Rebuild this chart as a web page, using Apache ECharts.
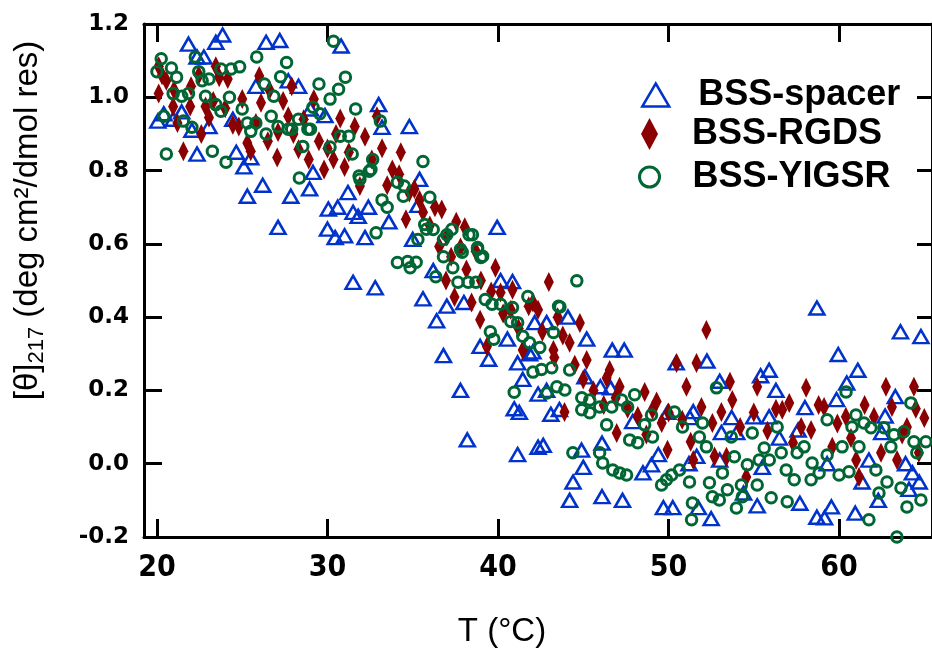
<!DOCTYPE html>
<html>
<head>
<meta charset="utf-8">
<script src="https://cdn.jsdelivr.net/npm/echarts@6/dist/echarts.min.js"></script>
<style>
html,body{margin:0;padding:0;background:#fff;}
#chart{width:932px;height:655px;}
</style>
</head>
<body>
<div id="chart"></div>
<script>
// ---- data (T in °C, [θ]217 in deg cm²/dmol res) ----
const seriesNames = ['BSS-spacer', 'BSS-RGDS', 'BSS-YIGSR'];
const xTicks = [20, 30, 40, 50, 60];
const yTicks = [-0.2, 0.0, 0.2, 0.4, 0.6, 0.8, 1.0, 1.2];

const spacerData = [
 [20.05,0.935],[20.4,0.955],[20.95,0.94],[21.45,0.96],[21.85,1.145],[22.35,1.11],[22.75,1.11],[22.05,0.91],
 [22.35,0.845],[23.05,0.92],[23.45,1.15],[23.85,1.17],[24.45,0.94],[24.65,0.85],[25.1,0.81],[25.5,0.835],
 [25.3,0.73],[25.8,1.03],[26.2,0.76],[26.4,1.15],[27.2,1.155],[27.7,1.045],[28.3,1.03],[27.85,0.73],
 [27.1,0.645],[29.85,0.95],[29.15,0.795],[28.95,0.75],[29.0,0.968],[30.05,0.695],[30.6,0.70],[31.2,0.74],
 [30.0,0.64],[30.45,0.617],[31.0,0.622],[32.2,0.617],[31.8,0.675],[31.5,0.686],[32.4,0.70],[33.0,0.98],
 [33.2,0.918],[34.8,0.92],[33.6,0.66],[35.3,0.705],[35.4,0.776],[35.0,0.612],[30.8,1.14],
 [31.5,0.495],[32.8,0.48],[35.6,0.45],[36.2,0.527],[37.0,0.43],[38.0,0.44],[36.4,0.39],[36.8,0.295],
 [37.8,0.20],[38.2,0.065],[39.95,0.645],[40.15,0.50],[40.85,0.497],[38.95,0.32],[39.45,0.285],[40.55,0.34],
 [42.15,0.385],[42.85,0.385],[41.85,0.30],[41.45,0.23],[42.85,0.20],[40.95,0.15],[41.15,0.025],[42.35,0.045],
 [41.15,0.275],[43.6,0.148],[44.1,0.40],[45.2,0.34],[46.7,0.31],[47.4,0.31],[42.05,0.305],[46.0,0.21],
 [46.6,0.207],[45.1,0.237],[42.35,0.19],[43.1,0.135],[41.25,0.14],[47.9,0.115],[42.65,0.05],[44.9,0.037],
 [46.1,0.056],[45.0,-0.01],[44.4,-0.05],[44.2,-0.10],[46.1,-0.09],[47.3,-0.10],[48.5,-0.025],[49.0,-0.003],
 [49.4,0.025],[49.7,-0.12],[50.25,-0.12],[50.45,0.275],[49.95,0.14],[51.65,0.02],[51.2,0.0],[51.45,0.142],
 [58.7,0.425],[52.25,0.28],[53.0,0.225],[55.4,0.24],[55.9,0.255],[56.3,0.20],[58.0,0.153],[53.7,0.126],
 [55.0,0.128],[55.9,0.128],[53.1,0.085],[54.0,0.085],[56.5,0.07],[51.25,0.126],[55.5,-0.01],[53.0,0.01],
 [51.75,-0.12],[52.5,-0.15],[55.2,-0.115],[57.7,-0.108],[58.7,-0.146],[54.4,-0.08],[57.6,0.092],[59.3,0.0],
 [63.6,0.36],[64.8,0.347],[59.95,0.298],[61.1,0.255],[60.45,0.22],[59.85,0.175],[63.3,0.183],[62.7,0.13],
 [62.5,0.085],[61.75,0.01],[63.9,0.0],[64.3,-0.025],[64.7,-0.05],[61.35,-0.05],[62.3,-0.10],[64.1,-0.07],
 [59.55,-0.118],[59.15,-0.148],[60.95,-0.135]
];

const rgdsData = [
 [20.1,1.01],[20.1,1.085],[20.55,1.045],[20.3,1.06],[20.95,0.975],[21.0,1.02],[21.2,0.93],[21.55,0.853],
 [21.95,0.975],[22.0,1.03],[22.45,1.06],[22.6,0.90],[22.85,0.975],[23.05,0.945],[23.3,0.99],[23.45,1.085],
 [23.65,1.055],[24.0,0.97],[24.15,1.05],[24.45,0.925],[24.8,0.92],[25.0,0.995],[25.3,0.875],[25.5,0.853],
 [25.8,0.93],[26.0,1.058],[26.1,0.985],[26.5,0.88],[26.6,1.02],[27.05,0.836],[27.1,0.905],[27.4,0.99],
 [27.7,0.948],[27.9,1.03],[28.0,0.90],[28.3,0.858],[28.6,0.94],[28.9,0.83],[29.2,0.995],[29.5,0.88],
 [29.8,0.803],[30.0,0.86],[30.35,0.83],[30.5,0.90],[30.75,0.942],[31.0,0.81],[31.25,0.85],[31.6,0.92],
 [31.9,0.758],[32.2,0.892],[32.6,0.83],[32.9,0.948],[33.2,0.861],[33.5,0.76],[33.8,0.803],[34.2,0.79],
 [34.3,0.85],[34.6,0.667],[34.8,0.74],[35.1,0.75],[35.4,0.72],[35.6,0.686],[36.0,0.65],[36.3,0.70],
 [36.55,0.593],[36.7,0.694],[36.95,0.50],[37.0,0.62],[37.25,0.565],[37.45,0.455],[37.55,0.66],[37.8,0.59],
 [38.05,0.645],[38.15,0.53],[38.45,0.44],[38.7,0.58],[38.95,0.393],[39.0,0.50],[39.35,0.32],[39.6,0.47],
 [39.85,0.535],[40.15,0.467],[40.3,0.41],[40.75,0.42],[40.85,0.475],[41.2,0.37],[41.45,0.31],[41.8,0.43],
 [42.05,0.44],[42.35,0.42],[42.6,0.36],[42.98,0.496],[43.25,0.31],[43.3,0.29],[43.5,0.40],[43.8,0.35],
 [43.9,0.141],[44.2,0.33],[44.5,0.27],[44.8,0.384],[45.0,0.23],[45.2,0.283],[45.6,0.20],[46.2,0.16],
 [46.37,0.234],[46.55,0.256],[46.9,0.18],[46.96,0.084],[47.13,0.21],[47.6,0.15],[48.2,0.13],[48.6,0.196],
 [48.7,0.08],[49.06,0.147],[49.3,0.17],[49.6,0.111],[49.94,0.038],[50.0,0.14],[50.47,0.275],[50.8,0.12],
 [51.05,0.21],[51.3,0.06],[51.45,0.01],[51.64,0.275],[51.93,0.155],[52.22,0.365],[52.57,0.111],[52.7,0.02],
 [53.1,0.141],[53.4,0.019],[53.6,0.224],[53.74,0.174],[54.2,0.10],[54.56,-0.036],[55.0,0.14],[55.2,0.21],
 [55.8,0.09],[56.3,0.15],[56.67,0.147],[57.08,0.166],[57.3,0.057],[57.78,0.10],[58.07,0.207],[58.36,0.092],
 [58.8,0.16],[59.12,0.155],[59.6,0.046],[59.9,0.11],[60.4,0.128],[60.7,0.07],[61.0,0.01],[61.17,-0.036],
 [61.5,0.16],[62.05,0.128],[62.46,0.03],[62.75,0.21],[63.1,0.155],[63.4,0.01],[63.7,0.08],[63.98,0.10],
 [64.39,0.21],[64.68,0.03],[65.0,0.125],[64.5,0.15]
];

const yigsrData = [
 [20.25,1.105],[20.0,1.07],[20.85,1.08],[21.15,1.055],[22.25,1.11],[22.45,1.07],[22.65,1.045],[23.05,1.05],
 [23.75,1.077],[24.35,1.077],[24.85,1.083],[25.85,1.11],[27.6,1.095],[26.3,1.036],[27.25,1.056],
 [20.95,1.01],[21.45,1.003],[21.85,1.01],[22.85,1.003],[23.45,0.98],[23.75,0.962],[24.25,1.0],[25.0,0.968],
 [20.4,0.948],[21.55,0.935],[22.05,0.918],[25.3,0.93],[25.8,0.93],[25.5,0.907],[26.7,0.948],[26.85,1.003],
 [27.1,0.92],[26.4,0.90],[20.55,0.845],[23.25,0.853],[24.05,0.823],
 [30.35,1.153],[29.5,1.036],[31.05,1.055],[30.65,1.022],[30.15,0.995],[31.65,0.968],[33.1,0.935],[30.75,0.894],
 [31.25,0.894],[31.45,0.845],[35.6,0.825],[29.15,0.973],[28.85,0.913],[28.55,0.866],[28.35,0.78],[27.9,0.913],
 [31.9,0.776],[32.55,0.803],[34.1,0.768],[34.45,0.73],[33.2,0.72],[33.5,0.70],[36.0,0.727],[36.8,0.612],
 [37.3,0.64],[37.8,0.585],[38.5,0.625],[38.8,0.59],[39.1,0.566],[35.3,0.612],[35.8,0.64],[34.1,0.549],
 [34.85,0.535],[35.2,0.55],[32.85,0.63],[29.55,0.955],[28.3,0.94],[27.7,0.913],[29.0,0.913],[30.15,0.864],
 [32.65,0.83],[32.45,0.798],[31.85,0.785],[34.5,0.758],[35.7,0.653],
 [36.2,0.639],[37.0,0.625],[38.3,0.625],[37.9,0.577],[38.8,0.585],[39.0,0.563],[36.8,0.565],[34.7,0.552],
 [36.35,0.51],[37.35,0.535],[37.65,0.495],[38.25,0.495],[38.7,0.495],[39.25,0.448],[39.65,0.435],[40.15,0.435],
 [40.85,0.426],[41.75,0.456],[40.75,0.388],[41.15,0.385],[39.55,0.36],[39.75,0.34],[41.45,0.348],[41.85,0.33],
 [42.45,0.317],[43.25,0.358],[43.55,0.43],[42.05,0.25],[42.55,0.257],[43.15,0.262],[40.95,0.195],
 [42.87,0.193],[43.45,0.21],[43.92,0.201],[44.91,0.18],[45.38,0.174],[44.91,0.147],[45.38,0.139],[45.96,0.155],
 [46.67,0.155],[47.25,0.174],[47.6,0.155],[48.01,0.188],[46.37,0.106],[47.72,0.065],[48.19,0.057],[48.6,0.106],
 [49.0,0.133],[49.06,0.073],[50.35,0.141],[50.82,0.1],[44.39,0.03],[45.96,0.03],[46.14,0.002],[46.73,-0.017],
 [47.13,-0.025],[47.54,-0.031],[49.59,-0.058],[49.88,-0.044],[50.18,-0.031],[50.64,-0.017],[51.23,-0.05],
 [51.4,-0.107],[51.35,-0.153],[43.63,0.428],[44.62,0.499],[44.2,0.256],
 [52.81,0.207],[51.99,0.111],[51.81,0.073],[52.22,0.046],[53.68,0.073],[54.91,0.084],[55.61,0.043],[56.37,0.1],
 [53.86,0.019],[54.62,-0.003],[55.32,0.01],[55.91,0.01],[56.61,0.03],[57.54,0.03],[57.95,0.046],[56.9,-0.017],
 [57.37,-0.044],[58.36,-0.044],[58.42,0.002],[53.16,-0.025],[52.4,-0.052],[53.45,-0.071],[52.57,-0.09],
 [52.98,-0.099],[54.27,-0.058],[54.33,-0.09],[55.2,-0.058],[53.98,-0.121],[56.02,-0.093],[56.96,-0.104],
 [59.3,0.12],[60.41,0.196],[64.21,0.166],[60.99,0.133],[60.76,0.1],[61.46,0.111],[61.87,0.098],[62.63,0.098],
 [63.22,0.079],[63.8,0.087],[64.39,0.06],[65.09,0.06],[63.04,0.046],[64.56,0.03],[60.18,0.046],[61.17,0.046],
 [59.3,0.024],[58.83,-0.025],[60.0,-0.031],[60.58,-0.022],[62.16,-0.017],[62.81,-0.05],[63.63,-0.066],
 [62.34,-0.08],[63.98,-0.118],[64.8,-0.099],[61.75,-0.153],[63.39,-0.2]
];

// ---- styles ----
const BLUE = '#0033cc', RED = '#8b0000', GREEN = '#006633';
const FONT = "'Liberation Sans', Arial, sans-serif";
const NARROW = "'Liberation Sans Narrow', 'Arial Narrow', 'DejaVu Sans Condensed', sans-serif";
const XMIN = 19.24, XMAX = 65.45;

const chart = echarts.init(document.getElementById('chart'), null, {renderer: 'canvas'});

function axisLine() { return {show: true, onZero: false, lineStyle: {color: '#000', width: 3}}; }

function legendBlock(name, icon, w, h, left, top, style, pad) {
  return {
    data: [{name: name, icon: icon, itemStyle: style}],
    left: left, top: top, orient: 'vertical',
    itemWidth: w, itemHeight: h, symbolKeepAspect: false,
    selectedMode: false, padding: 0,
    textStyle: {fontSize: 36, fontWeight: 'bold', fontFamily: FONT, color: '#000', padding: [0, 0, 0, pad]}
  };
}

const option = {
  animation: false,
  backgroundColor: '#fff',
  grid: {left: 143, top: 24, right: -1, bottom: 118, containLabel: false},
  legend: [
    legendBlock(seriesNames[0], 'triangle', 27, 23, 641, 77,
      {color: 'rgba(0,0,0,0)', borderColor: BLUE, borderWidth: 2.5}, 24),
    legendBlock(seriesNames[1], 'diamond', 17, 32, 641, 116,
      {color: RED, borderWidth: 0}, 29),
    legendBlock(seriesNames[2], 'circle', 20, 20, 638, 159,
      {color: 'rgba(0,0,0,0)', borderColor: GREEN, borderWidth: 3}, 28)
  ],
  xAxis: [
    {
      type: 'value', position: 'bottom', min: XMIN, max: XMAX,
      axisLine: axisLine(),
      axisTick: {show: true, inside: true, length: 18, customValues: xTicks, lineStyle: {color: '#000', width: 3}},
      axisLabel: {show: true, customValues: xTicks, margin: 16, fontSize: 30, fontWeight: 'bold',
                  fontFamily: NARROW, color: '#000'},
      splitLine: {show: false},
      name: 'T (°C)', nameLocation: 'middle', nameGap: 78,
      nameTextStyle: {fontSize: 33, fontFamily: FONT, color: '#000', padding: [0, 72, 0, 0]}
    },
    {
      type: 'value', position: 'top', min: XMIN, max: XMAX,
      axisLine: axisLine(),
      axisTick: {show: true, inside: true, length: 18, customValues: xTicks, lineStyle: {color: '#000', width: 3}},
      axisLabel: {show: false},
      splitLine: {show: false}
    }
  ],
  yAxis: [
    {
      type: 'value', position: 'left', min: -0.2, max: 1.2, interval: 0.2,
      axisLine: axisLine(),
      axisTick: {show: true, inside: true, length: 18, lineStyle: {color: '#000', width: 3}},
      axisLabel: {show: true, margin: 15, fontSize: 23, fontWeight: 'bold',
                  fontFamily: "'DejaVu Sans', sans-serif", color: '#000',
                  formatter: v => v.toFixed(1)},
      splitLine: {show: false},
      name: '[θ]{sub|217} (deg cm²/dmol res)',
      nameLocation: 'middle', nameGap: 96, nameRotate: 90,
      nameTextStyle: {
        fontSize: 33, fontFamily: FONT, color: '#000', lineHeight: 40, padding: [0, 0, 0, 120],
        rich: {sub: {fontSize: 22, fontFamily: FONT, color: '#000', lineHeight: 18, verticalAlign: 'bottom'}}
      }
    },
    {
      type: 'value', position: 'right', min: -0.2, max: 1.2, interval: 0.2,
      axisLine: axisLine(),
      axisTick: {show: true, inside: true, length: 15, lineStyle: {color: '#000', width: 3}},
      axisLabel: {show: false},
      splitLine: {show: false}
    }
  ],
  series: [
    {
      name: seriesNames[0], type: 'scatter', data: spacerData, xAxisIndex: 0, yAxisIndex: 0,
      symbol: 'triangle', symbolSize: [15, 13],
      itemStyle: {color: 'rgba(0,0,0,0)', borderColor: BLUE, borderWidth: 2.5, opacity: 1},
      emphasis: {disabled: true}, z: 2
    },
    {
      name: seriesNames[1], type: 'scatter', data: rgdsData, xAxisIndex: 0, yAxisIndex: 0,
      symbol: 'diamond', symbolSize: [10, 20],
      itemStyle: {color: RED, opacity: 1},
      emphasis: {disabled: true}, z: 3
    },
    {
      name: seriesNames[2], type: 'scatter', data: yigsrData, xAxisIndex: 0, yAxisIndex: 0,
      symbol: 'circle', symbolSize: 10.5,
      itemStyle: {color: 'rgba(0,0,0,0)', borderColor: GREEN, borderWidth: 3, opacity: 1},
      emphasis: {disabled: true}, z: 4
    }
  ]
};
chart.setOption(option);
</script>
</body>
</html>
